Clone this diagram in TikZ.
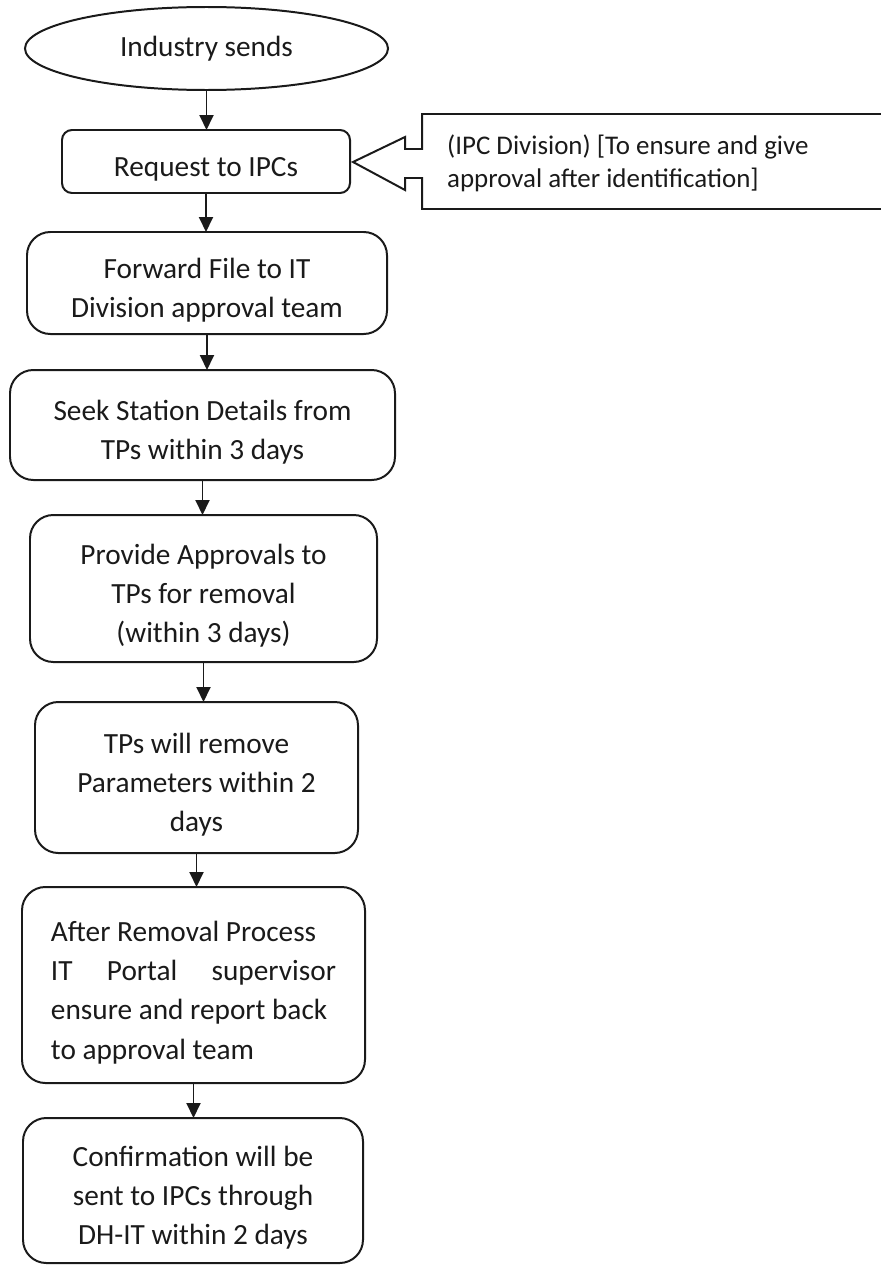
\documentclass[tikz,border=0pt]{standalone}
\usepackage{fontspec}
\setmainfont{Carlito}
\usepackage{tikz}
\usetikzlibrary{shapes,arrows.meta,positioning}
\definecolor{ink}{HTML}{1A1A1A}

\begin{document}
\begin{tikzpicture}[x=0.3mm, y=-0.3mm,
  every node/.style={font=\fontsize{25}{33.5}\selectfont, text=ink},
  flowbox/.style={draw=ink, line width=1.7pt, rounded corners=7mm, align=flush center, inner sep=0pt, outer sep=0pt,
    minimum width=#1, text width=#1, execute at begin node=\rule{0pt}{30pt}},
  arr/.style={draw=ink, line width=1.6pt, -{Triangle[length=4.5mm,width=4.2mm]}}]
  \useasboundingbox (0,0) rectangle (881,1265);
  % start and steps
  \node[draw=ink, line width=1.7pt, ellipse, minimum width=108.9mm, minimum height=24.9mm, inner sep=0pt, outer sep=0pt] (start) at (206.5,48.5) {Industry sends};
  \node[flowbox=86.4mm, rounded corners=3mm, minimum height=18.9mm, execute at begin node=\rule{0pt}{26pt}] (req) at (206,161.5) {Request to IPCs};
  \node[flowbox=108mm, minimum height=30.6mm] (fwd) at (207,283) {Forward File to IT\\Division approval team};
  \node[flowbox=115.5mm, minimum height=33mm] (seek) at (202.5,425) {Seek Station Details from\\TPs within 3 days};
  \node[flowbox=104.1mm, minimum height=44.1mm] (prov) at (203.5,588.5) {Provide Approvals to\\TPs for removal\\(within 3 days)};
  \node[flowbox=96.9mm, minimum height=45.3mm] (tps) at (196.5,777.5) {TPs will remove\\Parameters within 2\\days};
  \node[flowbox=102.9mm, align=flush left, text width=85.5mm, minimum height=58.8mm] (after) at (193.5,985) {After Removal Process\\IT\hfill Portal\hfill supervisor\\ensure and report back\\to approval team};
  \node[flowbox=102mm, minimum height=43.5mm] (conf) at (193,1190.5) {Confirmation will be\\sent to IPCs through\\DH-IT within 2 days};

  \foreach \a/\b in {start/req, req/fwd, fwd/seek, seek/prov, prov/tps, tps/after, after/conf}
    \draw[arr] (\a.south) -- (\a.south |- \b.north);

  % callout on the right
  \draw[draw=ink, line width=1.7pt, line join=miter] (353,162) -- (405,137) -- (405,149) -- (422,149) -- (422,114) -- (900,114)
    -- (900,209) -- (422,209) -- (422,178) -- (405,178) -- (405,190) -- cycle;
  \node[anchor=west, align=left, font=\fontsize{23}{28}\selectfont] (note) at (443,163) {(IPC Division) [To ensure and give\\approval after identification]};
\end{tikzpicture}
\end{document}
